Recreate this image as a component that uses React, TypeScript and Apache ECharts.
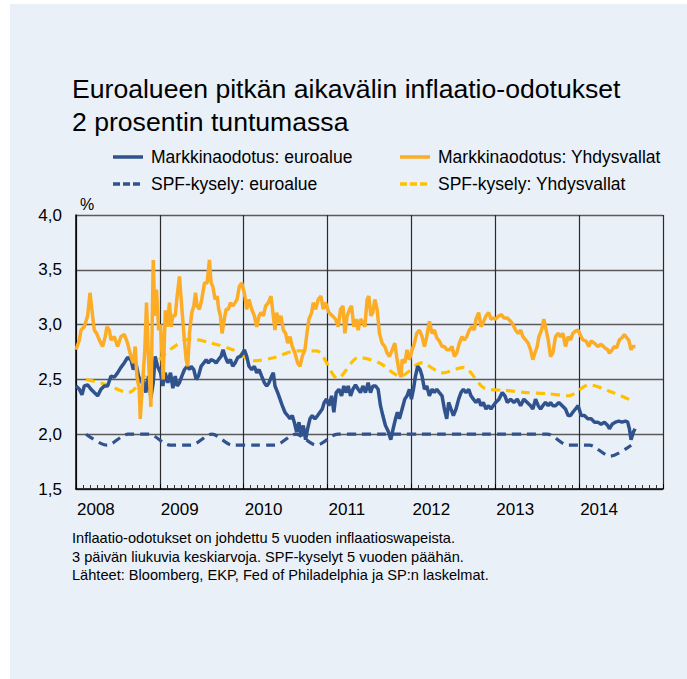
import React, { useEffect, useRef } from 'react';
import * as echarts from 'echarts';

const FONT = '"Liberation Sans", Arial, sans-serif';

const titleText = 'Euroalueen pitkän aikavälin inflaatio-odotukset\n2 prosentin tuntumassa';
const footnoteLines = [
  'Inflaatio-odotukset on johdettu 5 vuoden inflaatioswapeista.',
  '3 päivän liukuvia keskiarvoja. SPF-kyselyt 5 vuoden päähän.',
  'Lähteet: Bloomberg, EKP, Fed of Philadelphia ja SP:n laskelmat.',
];
const seriesNames = [
  'Markkinaodotus: euroalue',
  'SPF-kysely: euroalue',
  'Markkinaodotus: Yhdysvallat',
  'SPF-kysely: Yhdysvallat',
];

// [decimal year, %]
const usMarket: [number, number][] = [
  [2008.0, 2.77], [2008.04, 2.86], [2008.06, 2.95], [2008.099, 2.98], [2008.139, 3.08], [2008.167, 3.29],
  [2008.198, 3.08], [2008.218, 2.95], [2008.246, 2.92], [2008.278, 2.86], [2008.317, 2.8], [2008.349, 2.89],
  [2008.369, 2.98], [2008.397, 2.95], [2008.417, 2.86], [2008.456, 2.89], [2008.496, 2.8], [2008.536, 2.89],
  [2008.575, 2.91], [2008.615, 2.83], [2008.635, 2.77], [2008.655, 2.71], [2008.683, 2.65], [2008.706, 2.8],
  [2008.726, 2.53], [2008.754, 2.41], [2008.766, 2.14], [2008.794, 2.47], [2008.821, 2.77], [2008.841, 3.2],
  [2008.865, 2.68], [2008.893, 2.25], [2008.921, 3.59], [2008.94, 3.08], [2008.96, 3.32], [2008.985, 2.95],
  [2009.008, 3.0], [2009.04, 2.5], [2009.065, 3.13], [2009.087, 2.98], [2009.115, 3.2], [2009.135, 2.98],
  [2009.155, 3.08], [2009.183, 3.08], [2009.206, 3.26], [2009.234, 3.44], [2009.254, 3.23], [2009.286, 2.92],
  [2009.313, 2.68], [2009.333, 2.62], [2009.353, 2.92], [2009.381, 3.11], [2009.405, 3.17], [2009.425, 3.29],
  [2009.444, 3.17], [2009.472, 3.14], [2009.5, 3.23], [2009.532, 3.38], [2009.563, 3.38], [2009.591, 3.59],
  [2009.611, 3.38], [2009.631, 3.35], [2009.659, 3.23], [2009.683, 3.26], [2009.702, 3.14], [2009.722, 3.08],
  [2009.742, 2.92], [2009.762, 3.02], [2009.79, 3.14], [2009.817, 3.14], [2009.841, 3.2], [2009.869, 3.17],
  [2009.897, 3.2], [2009.921, 3.23], [2009.948, 3.35], [2009.976, 3.38], [2010.008, 3.29], [2010.036, 3.14],
  [2010.063, 3.23], [2010.095, 3.14], [2010.127, 3.08], [2010.155, 2.98], [2010.183, 3.08], [2010.206, 3.11],
  [2010.234, 3.08], [2010.262, 3.17], [2010.294, 3.2], [2010.325, 3.26], [2010.353, 3.08], [2010.373, 2.95],
  [2010.393, 3.11], [2010.421, 3.02], [2010.444, 3.08], [2010.472, 2.95], [2010.5, 2.92], [2010.524, 2.83],
  [2010.552, 2.89], [2010.579, 2.8], [2010.611, 2.74], [2010.643, 2.65], [2010.671, 2.62], [2010.698, 2.71],
  [2010.73, 2.77], [2010.754, 2.92], [2010.778, 3.05], [2010.81, 3.11], [2010.829, 3.2], [2010.857, 3.14],
  [2010.889, 3.23], [2010.921, 3.26], [2010.948, 3.14], [2010.976, 3.2], [2011.016, 3.11], [2011.056, 3.08],
  [2011.095, 3.05], [2011.127, 2.98], [2011.155, 3.14], [2011.183, 3.17], [2011.206, 2.92], [2011.234, 3.08],
  [2011.262, 3.14], [2011.286, 3.17], [2011.313, 2.98], [2011.341, 3.05], [2011.365, 2.95], [2011.393, 3.05],
  [2011.421, 3.02], [2011.444, 2.98], [2011.472, 3.23], [2011.492, 3.26], [2011.516, 3.08], [2011.54, 3.11],
  [2011.563, 3.23], [2011.591, 3.14], [2011.619, 2.92], [2011.651, 2.83], [2011.683, 2.8], [2011.71, 2.74],
  [2011.738, 2.71], [2011.77, 2.77], [2011.802, 2.83], [2011.829, 2.68], [2011.857, 2.56], [2011.876, 2.52],
  [2011.889, 2.68], [2011.921, 2.65], [2011.948, 2.77], [2011.976, 2.68], [2012.008, 2.77], [2012.036, 2.83],
  [2012.063, 2.92], [2012.095, 2.95], [2012.127, 2.89], [2012.155, 2.8], [2012.183, 2.89], [2012.214, 3.03],
  [2012.246, 2.92], [2012.274, 2.95], [2012.302, 2.88], [2012.333, 2.85], [2012.365, 2.8], [2012.393, 2.8],
  [2012.421, 2.77], [2012.452, 2.77], [2012.484, 2.8], [2012.512, 2.71], [2012.54, 2.74], [2012.571, 2.83],
  [2012.603, 2.89], [2012.631, 2.86], [2012.659, 2.89], [2012.69, 2.95], [2012.722, 2.98], [2012.75, 2.95],
  [2012.77, 3.05], [2012.802, 3.11], [2012.829, 2.98], [2012.857, 3.02], [2012.889, 3.08], [2012.921, 3.11],
  [2012.948, 3.05], [2012.976, 3.06], [2013.004, 3.05], [2013.044, 3.08], [2013.075, 3.09], [2013.103, 3.06],
  [2013.143, 3.06], [2013.183, 3.03], [2013.21, 3.0], [2013.242, 2.95], [2013.274, 2.92], [2013.302, 2.95],
  [2013.329, 2.89], [2013.361, 2.86], [2013.393, 2.83], [2013.421, 2.77], [2013.448, 2.68], [2013.472, 2.74],
  [2013.5, 2.8], [2013.52, 2.89], [2013.552, 2.95], [2013.579, 3.05], [2013.607, 2.95], [2013.631, 2.86],
  [2013.659, 2.71], [2013.687, 2.74], [2013.718, 2.89], [2013.75, 2.92], [2013.778, 2.89], [2013.806, 2.92],
  [2013.837, 2.8], [2013.869, 2.89], [2013.897, 2.86], [2013.925, 2.92], [2013.956, 2.94], [2013.988, 2.95],
  [2014.004, 2.92], [2014.044, 2.86], [2014.083, 2.85], [2014.115, 2.8], [2014.143, 2.85], [2014.183, 2.83],
  [2014.222, 2.8], [2014.262, 2.82], [2014.302, 2.79], [2014.341, 2.77], [2014.361, 2.74], [2014.393, 2.77],
  [2014.421, 2.8], [2014.448, 2.79], [2014.48, 2.86], [2014.512, 2.88], [2014.54, 2.91], [2014.567, 2.88],
  [2014.591, 2.86], [2014.619, 2.77], [2014.639, 2.8], [2014.671, 2.8],
];

const euroMarket: [number, number][] = [
  [2008.0, 2.44], [2008.04, 2.41], [2008.071, 2.36], [2008.099, 2.44], [2008.139, 2.45], [2008.179, 2.41],
  [2008.218, 2.38], [2008.258, 2.35], [2008.298, 2.41], [2008.337, 2.44], [2008.377, 2.44], [2008.417, 2.53],
  [2008.456, 2.52], [2008.496, 2.56], [2008.536, 2.61], [2008.575, 2.65], [2008.615, 2.7], [2008.655, 2.68],
  [2008.683, 2.59], [2008.714, 2.65], [2008.746, 2.53], [2008.774, 2.47], [2008.802, 2.5], [2008.833, 2.38],
  [2008.865, 2.53], [2008.893, 2.33], [2008.921, 2.47], [2008.944, 2.71], [2008.972, 2.62], [2009.008, 2.56],
  [2009.036, 2.44], [2009.063, 2.56], [2009.095, 2.47], [2009.127, 2.56], [2009.155, 2.42], [2009.183, 2.53],
  [2009.206, 2.44], [2009.234, 2.47], [2009.262, 2.53], [2009.294, 2.59], [2009.325, 2.62], [2009.353, 2.59],
  [2009.373, 2.62], [2009.405, 2.59], [2009.433, 2.5], [2009.46, 2.53], [2009.492, 2.62], [2009.524, 2.65],
  [2009.552, 2.68], [2009.579, 2.65], [2009.611, 2.68], [2009.643, 2.67], [2009.671, 2.65], [2009.698, 2.68],
  [2009.73, 2.71], [2009.754, 2.77], [2009.778, 2.71], [2009.81, 2.65], [2009.841, 2.68], [2009.869, 2.62],
  [2009.897, 2.65], [2009.929, 2.7], [2009.96, 2.71], [2009.988, 2.74], [2010.008, 2.77], [2010.036, 2.71],
  [2010.063, 2.62], [2010.095, 2.59], [2010.127, 2.62], [2010.155, 2.56], [2010.183, 2.59], [2010.214, 2.53],
  [2010.246, 2.47], [2010.274, 2.44], [2010.302, 2.47], [2010.333, 2.53], [2010.353, 2.56], [2010.373, 2.44],
  [2010.405, 2.38], [2010.433, 2.32], [2010.46, 2.26], [2010.492, 2.2], [2010.524, 2.17], [2010.552, 2.14],
  [2010.579, 2.17], [2010.603, 2.11], [2010.631, 2.02], [2010.659, 2.11], [2010.683, 1.98], [2010.71, 2.08],
  [2010.738, 1.95], [2010.762, 2.05], [2010.79, 2.14], [2010.817, 2.17], [2010.849, 2.14], [2010.881, 2.17],
  [2010.909, 2.2], [2010.937, 2.23], [2010.96, 2.29], [2010.988, 2.32], [2011.016, 2.26], [2011.048, 2.35],
  [2011.075, 2.2], [2011.103, 2.38], [2011.135, 2.41], [2011.167, 2.35], [2011.194, 2.44], [2011.222, 2.38],
  [2011.246, 2.44], [2011.274, 2.35], [2011.302, 2.41], [2011.333, 2.45], [2011.365, 2.41], [2011.393, 2.38],
  [2011.421, 2.44], [2011.452, 2.38], [2011.484, 2.47], [2011.512, 2.38], [2011.54, 2.44], [2011.571, 2.44],
  [2011.603, 2.41], [2011.631, 2.26], [2011.659, 2.17], [2011.69, 2.08], [2011.722, 2.03], [2011.754, 1.95],
  [2011.782, 2.05], [2011.81, 2.14], [2011.833, 2.2], [2011.857, 2.14], [2011.889, 2.23], [2011.921, 2.32],
  [2011.948, 2.35], [2011.976, 2.41], [2012.0, 2.32], [2012.024, 2.41], [2012.048, 2.53], [2012.075, 2.62],
  [2012.103, 2.59], [2012.127, 2.53], [2012.155, 2.41], [2012.183, 2.44], [2012.214, 2.35], [2012.246, 2.41],
  [2012.274, 2.38], [2012.302, 2.41], [2012.333, 2.38], [2012.365, 2.35], [2012.393, 2.23], [2012.421, 2.14],
  [2012.444, 2.29], [2012.472, 2.23], [2012.5, 2.17], [2012.532, 2.23], [2012.563, 2.32], [2012.591, 2.38],
  [2012.619, 2.41], [2012.651, 2.38], [2012.683, 2.41], [2012.71, 2.35], [2012.738, 2.32], [2012.77, 2.29],
  [2012.802, 2.32], [2012.829, 2.26], [2012.857, 2.29], [2012.889, 2.23], [2012.921, 2.26], [2012.948, 2.23],
  [2012.976, 2.26], [2013.004, 2.29], [2013.044, 2.32], [2013.083, 2.38], [2013.115, 2.35], [2013.143, 2.29],
  [2013.183, 2.32], [2013.222, 2.29], [2013.262, 2.32], [2013.302, 2.26], [2013.341, 2.32], [2013.381, 2.29],
  [2013.421, 2.26], [2013.448, 2.23], [2013.48, 2.32], [2013.512, 2.26], [2013.54, 2.23], [2013.567, 2.26],
  [2013.599, 2.29], [2013.631, 2.26], [2013.659, 2.29], [2013.687, 2.26], [2013.718, 2.26], [2013.758, 2.29],
  [2013.798, 2.26], [2013.837, 2.23], [2013.869, 2.17], [2013.897, 2.17], [2013.925, 2.2], [2013.956, 2.23],
  [2013.988, 2.26], [2014.024, 2.17], [2014.063, 2.17], [2014.103, 2.14], [2014.143, 2.14], [2014.183, 2.11],
  [2014.222, 2.11], [2014.262, 2.09], [2014.302, 2.11], [2014.341, 2.08], [2014.361, 2.05], [2014.393, 2.09],
  [2014.433, 2.11], [2014.472, 2.12], [2014.512, 2.11], [2014.552, 2.12], [2014.579, 2.11], [2014.599, 2.05],
  [2014.619, 1.95], [2014.647, 2.02], [2014.667, 2.05],
];

// SPF surveys (quarterly)
const spfDates = [
  2008.12, 2008.37, 2008.62, 2008.87, 2009.12, 2009.37, 2009.62, 2009.87, 2010.12, 2010.37, 2010.62, 2010.87,
  2011.12, 2011.37, 2011.62, 2011.87, 2012.12, 2012.37, 2012.62, 2012.87, 2013.12, 2013.37, 2013.62, 2013.87,
  2014.12, 2014.37, 2014.62,
];
const spfEuro = [
  2.0, 1.9, 2.0, 2.0, 1.9, 1.9, 2.0, 1.9, 1.9, 1.9, 2.0, 1.9,
  2.0, 2.0, 2.0, 2.0, 2.0, 2.0, 2.0, 2.0, 2.0, 2.0, 2.0, 1.9,
  1.9, 1.8, 1.9,
];
const spfUs = [
  2.5, 2.45, 2.38, 2.58, 2.77, 2.87, 2.83, 2.77, 2.67, 2.7, 2.76, 2.76,
  2.51, 2.7, 2.65, 2.53, 2.65, 2.56, 2.61, 2.42, 2.4, 2.38, 2.37, 2.35,
  2.45, 2.39, 2.31,
];

const BLUE = '#31538d';
const ORANGE = '#fdac25';
const YELLOW = '#ffc000';
const DASH = [9, 6];

export default function App() {
  const ref = useRef<HTMLDivElement>(null);

  useEffect(() => {
    if (!ref.current) return;
    const chart = echarts.init(ref.current, undefined, { renderer: 'svg' });
    const zip = (xs: number[], ys: number[]) => xs.map((x, i) => [x, ys[i]]);

    // legend layout: [name index, colour, dashed, column x, row y]
    const legendItems: [number, string, boolean, number, number][] = [
      [0, BLUE, false, 113, 157],
      [1, BLUE, true, 113, 184],
      [2, ORANGE, false, 400, 157],
      [3, YELLOW, true, 400, 184],
    ];
    const legendGraphics: any[] = [];
    legendItems.forEach(([idx, color, dashed, x, y]) => {
      legendGraphics.push({
        type: 'line',
        shape: { x1: x, y1: y, x2: x + 30, y2: y },
        style: { stroke: color, lineWidth: 3.5, lineDash: dashed ? [7, 3] : null },
      });
      legendGraphics.push({
        type: 'text',
        x: x + 38,
        y: y,
        style: {
          text: seriesNames[idx],
          fontFamily: FONT,
          fontSize: 17.5,
          fill: '#000',
          verticalAlign: 'middle',
          textAlign: 'left',
        },
      });
    });

    chart.setOption({
      animation: false,
      textStyle: { fontFamily: FONT },
      title: {
        text: titleText,
        left: 72,
        top: 72,
        padding: 0,
        textStyle: { fontFamily: FONT, fontSize: 26.6, fontWeight: 'normal', color: '#000', lineHeight: 33 },
      },
      grid: { left: 76, top: 215, right: 24, bottom: 190, containLabel: false },
      xAxis: {
        type: 'value',
        min: 2008,
        max: 2015,
        interval: 1,
        axisLine: { show: true, onZero: false, lineStyle: { color: '#000', width: 1.5 } },
        axisTick: { show: true, inside: true, length: 5, lineStyle: { color: '#000' } },
        minorTick: { show: true, splitNumber: 12, length: 4, lineStyle: { color: '#333' } },
        axisLabel: {
          fontFamily: FONT,
          fontSize: 17,
          color: '#000',
          margin: 12,
          align: 'left',
          padding: [0, 0, 0, 1],
          formatter: (v: number) => (v >= 2015 ? '' : String(v)),
        },
        splitLine: { show: true, lineStyle: { color: '#2b2b2b', width: 1.2 } },
      },
      yAxis: {
        type: 'value',
        min: 1.5,
        max: 4,
        interval: 0.5,
        axisLine: { show: true, lineStyle: { color: '#000', width: 1.5 } },
        axisTick: { show: false },
        axisLabel: {
          fontFamily: FONT,
          fontSize: 17,
          color: '#000',
          margin: 14,
          formatter: (v: number) => v.toFixed(1).replace('.', ','),
        },
        splitLine: { show: true, lineStyle: { color: '#5a5a5a', width: 1.3 } },
      },
      graphic: [
        {
          type: 'text',
          left: 80,
          top: 196,
          style: { text: '%', fontFamily: FONT, fontSize: 16, fill: '#000' },
        },
        {
          type: 'text',
          left: 72,
          top: 529,
          style: {
            text: footnoteLines.join('\n'),
            fontFamily: FONT,
            fontSize: 14.6,
            lineHeight: 18.5,
            fill: '#000',
          },
        },
        ...legendGraphics,
      ],
      series: [
        {
          name: seriesNames[3],
          type: 'line',
          data: zip(spfDates, spfUs),
          symbol: 'none',
          smooth: 0.3,
          z: 2,
          lineStyle: { color: YELLOW, width: 3.2, type: DASH },
        },
        {
          name: seriesNames[1],
          type: 'line',
          data: zip(spfDates, spfEuro),
          symbol: 'none',
          smooth: 0.3,
          z: 3,
          lineStyle: { color: BLUE, width: 3.2, type: DASH },
        },
        {
          name: seriesNames[0],
          type: 'line',
          data: euroMarket,
          symbol: 'none',
          z: 4,
          lineStyle: { color: BLUE, width: 3.5 },
        },
        {
          name: seriesNames[2],
          type: 'line',
          data: usMarket,
          symbol: 'none',
          z: 5,
          lineStyle: { color: ORANGE, width: 3.5 },
        },
      ],
    });
    return () => chart.dispose();
  }, []);

  return (
    <div style={{ position: 'fixed', left: 0, top: 0, width: 687, height: 679, background: '#fff' }}>
      <div style={{ position: 'absolute', left: 10, top: 4, right: 0, bottom: 0, background: '#e9f0f8' }} />
      <div ref={ref} style={{ position: 'absolute', left: 0, top: 0, width: 687, height: 679 }} />
    </div>
  );
}
